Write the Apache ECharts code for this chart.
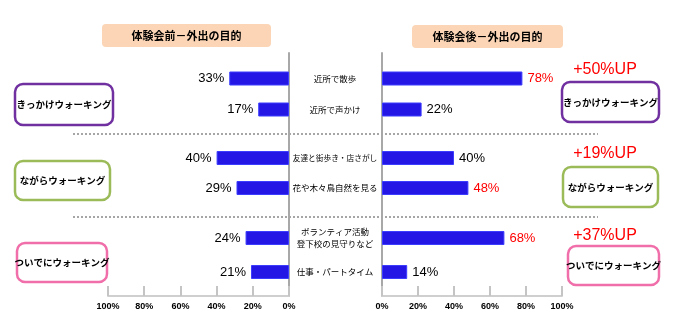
<!DOCTYPE html>
<html>
<head>
<meta charset="utf-8">
<script src="https://cdn.jsdelivr.net/npm/echarts@6/dist/echarts.min.js"></script>
<style>
html,body{margin:0;padding:0;background:#fff;}
#chart{width:678px;height:331px;}
</style>
</head>
<body>
<div id="chart"></div>
<script>
// ---- data ----
const categories = ['近所で散歩', '近所で声かけ', '友達と街歩き・店さがし', '花や木々鳥自然を見る', 'ボランティア活動\n登下校の見守りなど', '仕事・パートタイム'];
const groupOf = [0, 0, 1, 1, 2, 2];
const groupNames = ['きっかけウォーキング', 'ながらウォーキング', 'ついでにウォーキング'];
const beforeValues = [33, 17, 40, 29, 24, 21];
const afterValues = [78, 22, 40, 48, 68, 14];
const afterHighlight = [true, false, false, true, true, false];
const panelTitles = ['体験会前－外出の目的', '体験会後－外出の目的'];
const axisMin = 0, axisMax = 100, axisStep = 20;

// ---- layout (not data) ----
const CJK = '"Noto Sans CJK JP", "Noto Sans", sans-serif';
const LAT = '"Liberation Sans", Arial, sans-serif';
const leftPanel = { left: 108, width: 181 };
const rightPanel = { left: 382, width: 180 };
const axisBand = { top: 53, height: 243 };
const groupBands = [{ top: 63, height: 62 }, { top: 143, height: 60 }, { top: 221, height: 68 }];
const groupColors = ['#7030A0', '#9BBB59', '#F06EA9'];
const leftBoxes = [{ x: 15, y: 84, w: 98, h: 41 }, { x: 15, y: 161, w: 95, h: 39 }, { x: 17, y: 243, w: 90, h: 39 }];
const rightBoxes = [{ x: 562, y: 82, w: 97, h: 40 }, { x: 563, y: 167, w: 95, h: 40 }, { x: 568, y: 246, w: 91, h: 39 }];
const upTextY = [70, 154, 236];
const separatorsY = [134, 217];
const BAR = '#2416E4', BAR_BORDER = '#3C3CFF';

const grids = [], xAxes = [], yAxes = [], series = [];

// axis-only grids (left, right)
[leftPanel, rightPanel].forEach((p, side) => {
  grids.push({ left: p.left, width: p.width, top: axisBand.top, height: axisBand.height });
  xAxes.push({
    gridIndex: side, type: 'value', min: axisMin, max: axisMax, interval: axisStep,
    inverse: side === 0,
    axisLine: { show: true, lineStyle: { color: '#cfcfcf', width: 2 } },
    axisTick: { show: true, inside: true, length: 10, lineStyle: { color: '#c4c4c4', width: 2 } },
    splitLine: { show: false },
    axisLabel: { formatter: '{value}%', fontSize: 9, fontWeight: 'bold', color: '#000', margin: 6, fontFamily: LAT }
  });
  yAxes.push({
    gridIndex: side, type: 'value', min: 0, max: 1,
    position: side === 0 ? 'right' : 'left',
    axisLine: { show: true, onZero: false, lineStyle: { color: '#a8a8a8', width: 2 } },
    axisTick: { show: false }, axisLabel: { show: false }, splitLine: { show: false }
  });
});

// bar grids per group per side
[0, 1].forEach(side => {
  const p = side === 0 ? leftPanel : rightPanel;
  groupNames.forEach((g, gi) => {
    const idx = grids.length;
    grids.push({ left: p.left, width: p.width, top: groupBands[gi].top, height: groupBands[gi].height });
    const catIdx = categories.map((c, i) => i).filter(i => groupOf[i] === gi);
    xAxes.push({ gridIndex: idx, type: 'value', min: axisMin, max: axisMax, inverse: side === 0, show: false });
    yAxes.push({
      gridIndex: idx, type: 'category', inverse: true,
      data: catIdx.map(i => categories[i]),
      show: side === 1,
      position: 'left',
      axisLine: { show: false }, axisTick: { show: false }, splitLine: { show: false },
      axisLabel: {
        show: side === 1, align: 'center', margin: 47, fontSize: 8.5, lineHeight: 12, color: '#000', fontFamily: CJK,
        formatter: v => (v.length > 10 && v.indexOf('\n') < 0) ? '{s|' + v + '}' : v,
        rich: { s: { fontSize: 7.7, fontFamily: CJK, color: '#000' } }
      }
    });
    series.push({
      type: 'bar', xAxisIndex: idx, yAxisIndex: idx, barWidth: 14,
      itemStyle: { color: BAR, borderColor: BAR_BORDER, borderWidth: 1 },
      label: {
        show: true, position: side === 0 ? 'left' : 'right', distance: 5,
        formatter: '{c}%', fontSize: 13, fontFamily: LAT, color: '#000'
      },
      data: catIdx.map(i => side === 0 ? beforeValues[i] :
        { value: afterValues[i], label: { color: afterHighlight[i] ? '#FF0000' : '#000' } })
    });
  });
});

// graphics
const graphic = [];
separatorsY.forEach(y => graphic.push({
  type: 'line', shape: { x1: 73, y1: y, x2: 598, y2: y }, z: 5,
  style: { stroke: '#a6a6a6', lineWidth: 2, lineDash: [2, 2] }
}));
[{ x: 102, y: 24, w: 169, h: 23 }, { x: 412, y: 25, w: 151, h: 23 }].forEach((b, i) => {
  graphic.push({ type: 'rect', shape: { x: b.x, y: b.y, width: b.w, height: b.h, r: 4 }, style: { fill: '#FBD5B5' } });
  graphic.push({ type: 'text', x: b.x + b.w / 2, y: b.y + b.h / 2 + 0.5,
    style: { text: panelTitles[i], fill: '#000', font: 'bold 11px ' + CJK, align: 'center', verticalAlign: 'middle' } });
});
[leftBoxes, rightBoxes].forEach(boxes => boxes.forEach((b, gi) => {
  graphic.push({ type: 'rect', shape: { x: b.x, y: b.y, width: b.w, height: b.h, r: 8 },
    style: { fill: '#fff', stroke: groupColors[gi], lineWidth: 2.5 } });
  graphic.push({ type: 'text', x: b.x + b.w / 2, y: b.y + b.h / 2,
    style: { text: groupNames[gi], fill: '#000', font: 'bold 9.5px ' + CJK, align: 'center', verticalAlign: 'middle' } });
}));
groupNames.forEach((g, gi) => {
  let diff = 0;
  categories.forEach((c, i) => { if (groupOf[i] === gi) diff += afterValues[i] - beforeValues[i]; });
  graphic.push({ type: 'text', x: 605, y: upTextY[gi],
    style: { text: (diff >= 0 ? '+' : '') + diff + '%UP', fill: '#FF0000', font: '16px ' + LAT, align: 'center', verticalAlign: 'middle' } });
});

const chart = echarts.init(document.getElementById('chart'), null, { renderer: 'canvas' });
chart.setOption({
  animation: false,
  backgroundColor: '#fff',
  grid: grids, xAxis: xAxes, yAxis: yAxes, series: series,
  graphic: graphic
});
</script>
</body>
</html>
